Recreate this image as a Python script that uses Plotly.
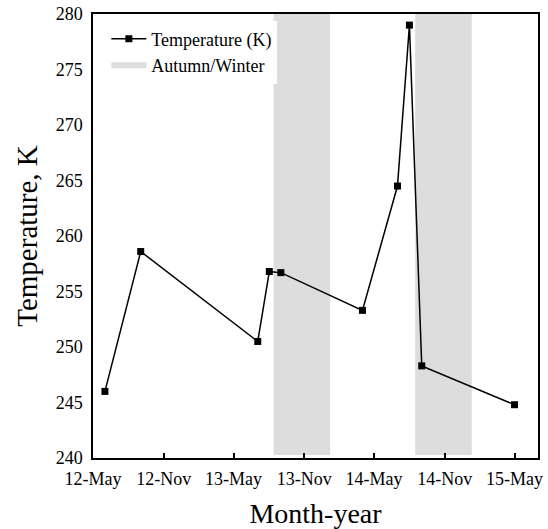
import plotly.graph_objects as go

# Data
dates = ["2012-06-01", "2012-09-02", "2013-07-03", "2013-08-02", "2013-09-01",
         "2014-04-01", "2014-07-01", "2014-08-01", "2014-09-02", "2015-05-01"]
temperature_k = [246.0, 258.6, 250.5, 256.8, 256.7, 253.3, 264.5, 279.0, 248.3, 244.8]

band_starts = ["2013-08-13", "2014-08-16"]
band_ends = ["2014-01-07", "2015-01-10"]
band_bottom = 240.27
band_top = 280

tick_dates = ["2012-05-01", "2012-11-01", "2013-05-01", "2013-11-01",
              "2014-05-01", "2014-11-01", "2015-05-01"]
tick_labels = ["12-May", "12-Nov", "13-May", "13-Nov", "14-May", "14-Nov", "15-May"]

FONT = "Liberation Serif"

# Build band polygons
bx, by = [], []
for s, e in zip(band_starts, band_ends):
    bx += [s, e, e, s, s, None]
    by += [band_bottom, band_bottom, band_top, band_top, band_bottom, None]

fig = go.Figure()
fig.add_trace(go.Scatter(
    x=bx, y=by, mode="none", fill="toself", fillcolor="#dddddd",
    name="Autumn/Winter", legendrank=2, hoverinfo="skip"))
fig.add_trace(go.Scatter(
    x=dates, y=temperature_k, mode="lines+markers", name="Temperature (K)",
    line=dict(color="black", width=1.5),
    marker=dict(symbol="square", size=7, color="black"),
    legendrank=1))

fig.update_layout(
    width=548, height=529,
    margin=dict(l=93, r=10, t=14, b=71),
    paper_bgcolor="white", plot_bgcolor="white",
    font=dict(family=FONT, size=18, color="black"),
    showlegend=True,
    legend=dict(x=0.03, y=0.985, xanchor="left", yanchor="top",
                bgcolor="white", borderwidth=0,
                font=dict(family=FONT, size=18, color="black"),
                tracegroupgap=0, itemwidth=35),
    xaxis=dict(type="date", range=["2012-05-01", "2015-07-01"],
               tickvals=tick_dates, ticktext=tick_labels,
               ticks="inside", ticklen=5, tickwidth=1.5, tickcolor="black",
               showline=True, linecolor="black", linewidth=1.5, mirror=True,
               showgrid=False, zeroline=False, automargin=False,
               ticklabelstandoff=4, ticklabeloverflow="allow",
               tickfont=dict(family=FONT, size=18),
               title=dict(text="Month-year", font=dict(family=FONT, size=28), standoff=25)),
    yaxis=dict(range=[240, 280], dtick=5, ticks="",
               showline=True, linecolor="black", linewidth=1.5, mirror=True,
               showgrid=False, zeroline=False, automargin=False,
               ticklabelstandoff=5, ticklabeloverflow="allow",
               tickfont=dict(family=FONT, size=18),
               title=dict(text="Temperature, K", font=dict(family=FONT, size=29), standoff=10)),
)

fig.write_html("out.html", config={"displayModeBar": False},
               post_script="document.body.style.margin='0';")
